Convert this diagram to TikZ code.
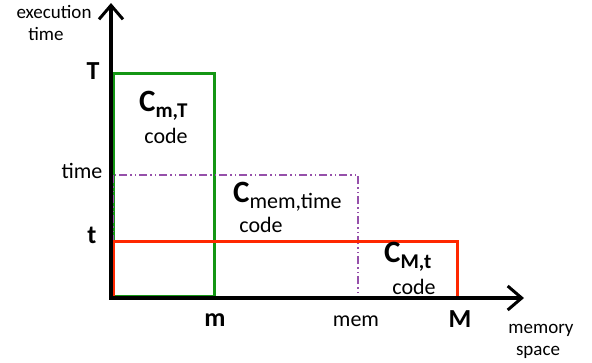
\documentclass[tikz,border=0pt]{standalone}
\usepackage{fontspec}
\setmainfont{Carlito}
\usetikzlibrary{arrows.meta}
\definecolor{gbox}{RGB}{20,150,20}
\definecolor{rbox}{RGB}{255,40,0}
\definecolor{pbox}{RGB}{150,80,170}
\begin{document}
\begin{tikzpicture}[x=1pt,y=-1pt,
  lab/.style={inner sep=0pt,anchor=base,font=\fontsize{19}{22}\selectfont},
  midlab/.style={inner sep=0pt,anchor=base,font=\fontsize{22}{26}\selectfont},
  boldlab/.style={inner sep=0pt,anchor=base,font=\fontsize{26}{28}\selectfont\bfseries},
  codelab/.style={inner sep=0pt,anchor=base,font=\fontsize{22}{26}\selectfont},
  clab/.style={inner sep=0pt,anchor=base west,font=\fontsize{31}{34}\selectfont\bfseries},
  axis/.style={line width=3.2pt,-{Straight Barb[length=14pt,width=24pt,line width=3pt]}},
]
\useasboundingbox (0,0) rectangle (592,362);
% boxes
\draw[gbox,line width=3pt] (113,73) rectangle (214,296);
\draw[pbox,line width=1.3pt,dash pattern=on 8pt off 3pt on 1.5pt off 3pt on 1.5pt off 3pt] (113,175) rectangle (358,297);
\draw[rbox,line width=3pt] (113,241) rectangle (457,297);
% axes
\coordinate (ytip) at (111,3);
\coordinate (xtip) at (524,298);
\coordinate (ystart) at (111,299.6);
\coordinate (xstart) at (109.4,298);
\draw[axis] (ystart) -- (ytip);
\draw[axis] (xstart) -- (xtip);
% axis labels
\node[lab] (exec) at (54,18) {execution};
\node[lab] (time1) at (46,40) {time};
\node[lab] (mem1) at (541,333) {memory};
\node[lab] (space) at (538,355) {space};
% ticks
\node[boldlab] (T) at (93,79) {T};
\node[midlab] (timelab) at (82,178) {time};
\node[boldlab] (t) at (92,243) {t};
\node[boldlab] (m) at (215,326) {m};
\node[midlab] (memlab) at (356,326) {mem};
\node[boldlab] (M) at (460,327) {M};
% box labels
\node[clab] (cmT) at (139,111) {C\raisebox{-6pt}{\fontsize{21}{22}\selectfont m,T}};
\node[codelab] (code1) at (166,143) {code};
\node[clab] (cmem) at (233,202) {C\raisebox{-6pt}{\mdseries\fontsize{22}{24}\selectfont mem,time}};
\node[codelab] (code2) at (261,232) {code};
\node[clab] (cMt) at (384,262) {C\raisebox{-6pt}{\fontsize{21}{22}\selectfont M,t}};
\node[codelab] (code3) at (414,294) {code};
\end{tikzpicture}
\end{document}
